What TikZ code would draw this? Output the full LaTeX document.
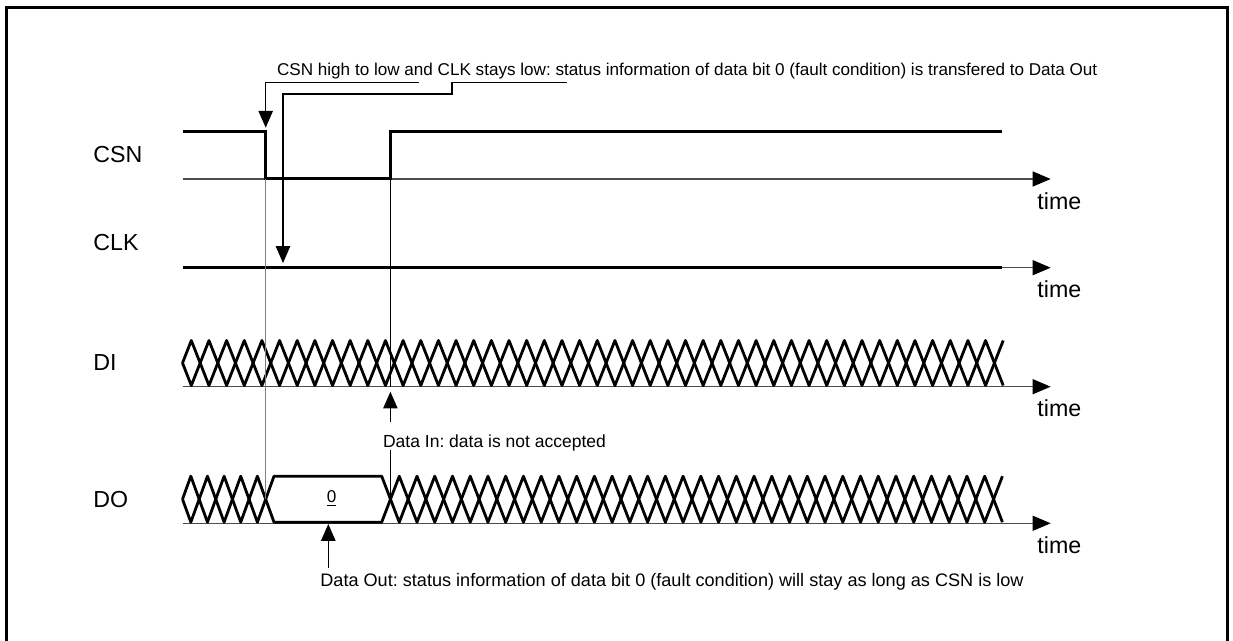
\documentclass[tikz,border=0pt]{standalone}
\usepackage{fontspec}
\setmainfont{Liberation Sans}
\usetikzlibrary{arrows.meta}
\frenchspacing
\begin{document}
\begin{tikzpicture}[x=0.5pt,y=-0.5pt,
    signal/.style={line width=1.5pt},
    bus/.style={line width=1.4pt, line join=round},
    axis/.style={line width=0.55pt, draw=black!70, -{Triangle[length=9pt,width=7.5pt,color=black]}},
    leader/.style={line width=0.55pt, -{Triangle[length=8.4pt,width=7.2pt]}},
    marker/.style={line width=0.55pt},
    siglabel/.style={anchor=west, inner sep=0pt, font=\fontsize{11.6}{13}\selectfont},
    note/.style={anchor=base west, inner sep=0pt, font=\fontsize{8.55}{10}\selectfont}]
    \useasboundingbox (0,0) rectangle (1233,641);
    % Frame (bottom edge is cut off)
    \draw[line width=1.3pt] (6.7,641) -- (6.7,7.3) -- (1227.7,7.3) -- (1227.7,641);
    % Signal names
    \node[siglabel] (csn) at (93,155) {CSN};
    \node[siglabel] (clk) at (93,243) {CLK};
    \node[siglabel] (di) at (93,363) {DI};
    \node[siglabel] (dout) at (93,500) {DO};
    % Time axes
    \foreach \y/\n in {179/csn,267.7/clk,386.7/di,523.3/dout} {
      \coordinate (start\n) at (183,\y);
      \coordinate (end\n) at (1050.7,\y);
      \draw[axis] (start\n) -- (end\n);
      \node[siglabel] (time\n) at (1037,\y+22) {time};
    }
    % CSN goes low, then high again
    \coordinate (csnfall) at (265.7,131.7);
    \coordinate (csnrise) at (390.4,179);
    \draw[signal] (183,131.7) -- (csnfall) -- (265.7,179) -- (csnrise) -- (390.4,131.7) -- (1001.7,131.7);
    % CLK stays low
    \coordinate (clklow) at (283,267.7);
    \draw[signal] (startclk) -- (1001.7,267.7);
    % DI: don't care
    \draw[bus] (182.5,363) \foreach \k in {0,...,46} {-- ({182.5+(\k+0.5)*17.65},{363-22.5*cos(180*\k)})};
    \draw[bus] (182.5,363) \foreach \k in {0,...,46} {-- ({182.5+(\k+0.5)*17.65},{363+22.5*cos(180*\k)})};
    % DO: don't care, bit 0, don't care
    \draw[bus] (182.5,499.2) \foreach \k in {0,...,4} {-- ({182.5+(\k+0.5)*16.64},{499.2-23*cos(180*\k)})}
      -- (274,522.2) -- (381.7,522.2)
      \foreach \k in {0,...,34} {-- ({390.4+(\k+0.5)*17.74},{499.2-23*cos(180*\k)})};
    \draw[bus] (182.5,499.2) \foreach \k in {0,...,4} {-- ({182.5+(\k+0.5)*16.64},{499.2+23*cos(180*\k)})}
      -- (274,476.2) -- (381.7,476.2)
      \foreach \k in {0,...,34} {-- ({390.4+(\k+0.5)*17.74},{499.2+23*cos(180*\k)})};
    \node[inner sep=0pt, font=\fontsize{8.55}{10}\selectfont] (bit0) at (331.7,498.5) {\underline{0}};
    % Markers
    \draw[marker, black!50] (265.7,179) -- (265.7,499.2);
    \draw[marker] (csnrise) -- (390.4,386.7);
    \draw[marker] (390.4,450) -- (390.4,499.2);
    % Notes
    \node[note] (csnnote) at (276.7,76) {CSN high to low and CLK stays low: status information of data bit 0 (fault condition) is transfered to Data Out};
    \coordinate (lead1) at (419,82.7);
    \coordinate (lead2) at (567,82.7);
    \draw[leader, shorten >=2pt] (lead1) -| (csnfall);
    \draw[leader, shorten >=2.35pt] (lead2) -- (452,82.7) -- (452,94) -| (clklow);
    \node[note, font=\fontsize{8.75}{10}\selectfont] (dinote) at (382.7,447.5) {Data In: data is not accepted};
    \coordinate (ditip) at (390.4,391.7);
    \coordinate (ditail) at (390.4,421.7);
    \draw[leader] (ditail) -- (ditip);
    \node[note, font=\fontsize{9.05}{10}\selectfont] (donote) at (320,587) {Data Out: status information of data bit 0 (fault condition) will stay as long as CSN is low};
    \coordinate (dotip) at (328.3,524);
    \coordinate (dotail) at (328.3,568.3);
    \draw[leader] (dotail) -- (dotip);
\end{tikzpicture}
\end{document}
